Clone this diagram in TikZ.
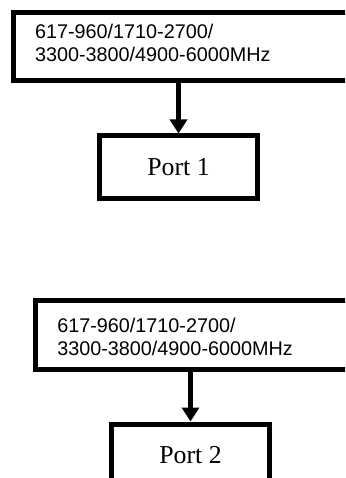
\documentclass[tikz,border=0pt]{standalone}
\usepackage{fontspec}
\setmainfont{Liberation Serif}
\setsansfont{Liberation Sans}
\usetikzlibrary{arrows.meta}

\tikzset{
	band/.style={draw, line width=5pt, anchor=north west, inner xsep=21.5pt, inner ysep=0pt,
		text width=330pt, align=left, font=\sffamily\fontsize{19.8}{23.4}\selectfont},
	port/.style={draw, line width=5pt, inner sep=0pt, minimum width=158pt, minimum height=62pt,
		font=\fontsize{25.8}{30}\selectfont},
	feed/.style={line width=5.5pt, -{Triangle[length=14pt,width=17pt]}}
}

\begin{document}
\begin{tikzpicture}[x=1pt, y=-1pt]
				\clip (0,0) rectangle (345,478);

				\foreach \i/\bx/\by/\hu/\hd/\px/\py in {1/11/10/26/42/178.5/167,2/33.3/297.5/32/37.5/190.5/455} {
					\node[band, text height=\hu pt, text depth=\hd pt] (band\i) at (\bx,\by) {617-960/1710-2700/\\3300-3800/4900-6000MHz};
					\node[port] (port\i) at (\px,\py) {Port \i};
					\draw[feed] (port\i.north |- band\i.south) -- (port\i.north);
				}
			\end{tikzpicture}
\end{document}
